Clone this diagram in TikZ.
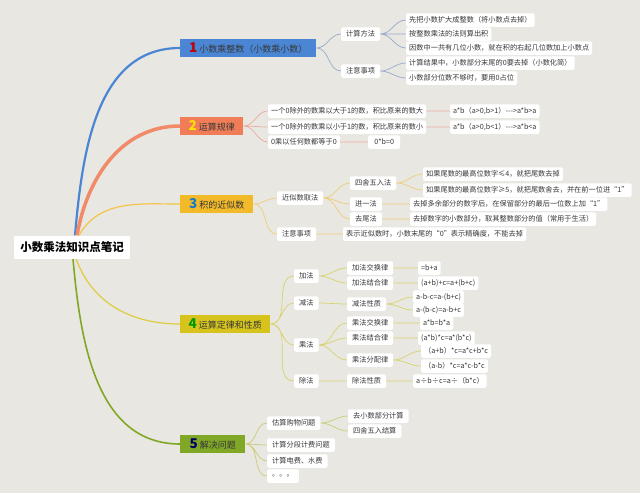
\documentclass[tikz,border=0pt]{standalone}
\usepackage{fontspec}
\setmainfont{Noto Sans CJK SC}
\definecolor{paper}{RGB}{233,231,226}
\definecolor{blueb}{RGB}{74,134,212}
\definecolor{coralb}{RGB}{240,125,88}
\definecolor{goldb}{RGB}{242,186,40}
\definecolor{mustb}{RGB}{214,196,28}
\definecolor{greenb}{RGB}{128,168,38}
\definecolor{bluel}{RGB}{150,170,205}
\definecolor{corall}{RGB}{236,170,158}
\definecolor{goldl}{RGB}{238,205,120}
\definecolor{mustl}{RGB}{214,210,110}
\definecolor{greenl}{RGB}{200,204,118}
\colorlet{inkgray}{black!78}
\usetikzlibrary{backgrounds}

\begin{document}
\begin{tikzpicture}[x=1pt, y=-1pt,
  rootbox/.style={fill=white, font=\fontsize{11.5}{13}\selectfont\bfseries,
    inner xsep=6pt, minimum height=23pt},
  topic/.style={anchor=west, font=\fontsize{9}{10}\selectfont, text=inkgray,
    minimum height=18pt, inner xsep=5pt, align=left},
  item/.style={anchor=west, fill=white, rounded corners=1.5pt,
    font=\fontsize{7.2}{9}\selectfont, text=inkgray, minimum height=13.5pt,
    inner xsep=3pt, inner ysep=1pt},
  mid/.style={item, inner xsep=5pt},
  link/.style={line width=0.7pt, out=0, in=180},
]
  \useasboundingbox (0,0) rectangle (640,493);
  \node[rootbox] (root) at (72,247) {小数乘法知识点笔记};

  % 1
  \node[topic, fill=blueb, minimum width=136pt] (b1) at (180,48)
    {{\color{red!75!black}\fontsize{13.5}{12}\selectfont\bfseries 1}\ 小数乘整数（小数乘小数）};
  \node[mid] (b1a) at (341,34) {计算方法};
  \node[mid] (b1b) at (341,71) {注意事项};
  \node[item] (b1a1) at (406,20) {先把小数扩大成整数（将小数点去掉）};
  \node[item] (b1a2) at (406,34) {按整数乘法的法则算出积};
  \node[item] (b1a3) at (406,48) {因数中一共有几位小数，就在积的右起几位数加上小数点};
  \node[item] (b1b1) at (406,63) {计算结果中，小数部分末尾的0要去掉（小数化简）};
  \node[item] (b1b2) at (406,78) {小数部分位数不够时，要用0占位};

  % 2
  \node[topic, fill=coralb, minimum width=63pt] (b2) at (180,126)
    {{\color{yellow!85!orange}\fontsize{13.5}{12}\selectfont\bfseries 2}\ 运算规律};
  \node[item] (b2a) at (268,111) {一个0除外的数乘以大于1的数，积比原来的数大};
  \node[item] (b2b) at (268,127) {一个0除外的数乘以小于1的数，积比原来的数小};
  \node[item] (b2c) at (268,142) {0乘以任何数都等于0};
  \node[item] (b2a1) at (450,111) {a*b（a>0,b>1）-{}-{}->a*b>a};
  \node[item] (b2b1) at (450,127) {a*b（a>0,b<1）-{}-{}->a*b<a};
  \node[item, minimum width=32pt] (b2c1) at (368,142) {0*b=0};

  % 3
  \node[topic, fill=goldb, minimum width=73pt] (b3) at (180,204)
    {{\color{cyan!60!blue}\fontsize{13.5}{12}\selectfont\bfseries 3}\ 积的近似数};
  \node[mid] (b3a) at (277,198) {近似数取法};
  \node[mid] (b3b) at (277,234) {注意事项};
  \node[mid] (b3a1) at (350,183) {四舍五入法};
  \node[mid] (b3a2) at (350,204) {进一法};
  \node[mid] (b3a3) at (350,219) {去尾法};
  \node[item] (b3a11) at (423,174) {如果尾数的最高位数字≤4，就把尾数去掉};
  \node[item] (b3a12) at (423,190) {如果尾数的最高位数字≥5，就把尾数舍去，并在前一位进“1”};
  \node[item] (b3a21) at (410,204) {去掉多余部分的数字后，在保留部分的最后一位数上加“1”};
  \node[item] (b3a31) at (410,219) {去掉数字的小数部分，取其整数部分的值（常用于生活）};
  \node[item] (b3b1) at (343,234) {表示近似数时，小数末尾的“0”表示精确度，不能去掉};

  % 4
  \node[topic, fill=mustb, minimum width=90pt] (b4) at (180,324)
    {{\color{green!60!black}\fontsize{13.5}{12}\selectfont\bfseries 4}\ 运算定律和性质};
  \node[mid] (b4a) at (294,276) {加法};
  \node[mid] (b4b) at (294,303) {减法};
  \node[mid] (b4c) at (294,345) {乘法};
  \node[mid] (b4d) at (294,381) {除法};
  \node[mid] (b4a1) at (347,268) {加法交换律};
  \node[mid] (b4a2) at (347,283) {加法结合律};
  \node[mid] (b4b1) at (347,304) {减法性质};
  \node[mid] (b4c1) at (347,323) {乘法交换律};
  \node[mid] (b4c2) at (347,338) {乘法结合律};
  \node[mid] (b4c3) at (347,360) {乘法分配律};
  \node[mid] (b4d1) at (347,381) {除法性质};
  \node[item] (b4a11) at (418,268) {=b+a};
  \node[item] (b4a21) at (418,283) {(a+b)+c=a+(b+c)};
  \node[item] (b4b11) at (413,297) {a-b-c=a-(b+c)};
  \node[item] (b4b12) at (413,310) {a-(b-c)=a-b+c};
  \node[item] (b4c11) at (420,323) {a*b=b*a};
  \node[item] (b4c21) at (418,338) {(a*b)*c=a*(b*c)};
  \node[item] (b4c31) at (421,351) {（a+b）*c=a*c+b*c};
  \node[item] (b4c32) at (421,366) {（a-b）*c=a*c-b*c};
  \node[item] (b4d11) at (413,381) {a÷b÷c=a÷（b*c）};

  % 5
  \node[topic, fill=greenb, minimum width=65pt] (b5) at (180,444)
    {{\color{blue!40!black}\fontsize{13.5}{12}\selectfont\bfseries 5}\ 解决问题};
  \node[mid] (b5a) at (267,423) {估算购物问题};
  \node[mid] (b5b) at (267,445) {计算分段计费问题};
  \node[mid] (b5c) at (267,461) {计算电费、水费};
  \node[mid] (b5d) at (267,476) {。。。};
  \node[mid] (b5a1) at (348,416) {去小数部分计算};
  \node[mid] (b5a2) at (348,431) {四舍五入结算};

  \begin{scope}[on background layer]
    \fill[paper] (0,0) rectangle (640,493);
    % main branches
    \draw[blueb, line width=2.2pt] ([xshift=3pt]root.north) to[out=85, in=180] (b1.west);
    \draw[coralb!90!white, line width=3.5pt] ([xshift=5pt]root.north) to[out=80, in=180] (b2.west);
    \draw[goldb!85!white, line width=1.2pt] ([xshift=7pt]root.north) to[out=60, in=180] (b3.west);
    \draw[mustb!85!white, line width=1.2pt] ([xshift=4pt]root.south) to[out=-70, in=180] (b4.west);
    \draw[greenb, line width=1.6pt] ([xshift=1pt]root.south) to[out=-85, in=180] (b5.west);
    % 1
    \draw[link, bluel] (b1.east) to (b1a.west) (b1.east) to (b1b.west)
      (b1a.east) to (b1a1.west) (b1a.east) to (b1a2.west) (b1a.east) to (b1a3.west)
      (b1b.east) to (b1b1.west) (b1b.east) to (b1b2.west);
    % 2
    \draw[link, corall] (b2.east) to (b2a.west) (b2.east) to (b2b.west) (b2.east) to (b2c.west)
      (b2a.east) to (b2a1.west) (b2b.east) to (b2b1.west) (b2c.east) to (b2c1.west);
    % 3
    \draw[link, goldl] (b3.east) to (b3a.west) (b3.east) to (b3b.west)
      (b3a.east) to (b3a1.west) (b3a.east) to (b3a2.west) (b3a.east) to (b3a3.west)
      (b3a1.east) to (b3a11.west) (b3a1.east) to (b3a12.west)
      (b3a2.east) to (b3a21.west) (b3a3.east) to (b3a31.west)
      (b3b.east) to (b3b1.west);
    % 4
    \draw[link, mustl] (b4.east) to (b4a.west) (b4.east) to (b4b.west)
      (b4.east) to (b4c.west) (b4.east) to (b4d.west)
      (b4a.east) to (b4a1.west) (b4a.east) to (b4a2.west)
      (b4b.east) to (b4b1.west)
      (b4c.east) to (b4c1.west) (b4c.east) to (b4c2.west) (b4c.east) to (b4c3.west)
      (b4d.east) to (b4d1.west)
      (b4a1.east) to (b4a11.west) (b4a2.east) to (b4a21.west)
      (b4b1.east) to (b4b11.west) (b4b1.east) to (b4b12.west)
      (b4c1.east) to (b4c11.west) (b4c2.east) to (b4c21.west)
      (b4c3.east) to (b4c31.west) (b4c3.east) to (b4c32.west)
      (b4d1.east) to (b4d11.west);
    % 5
    \draw[link, greenl] (b5.east) to (b5a.west) (b5.east) to (b5b.west)
      (b5.east) to (b5c.west) (b5.east) to (b5d.west)
      (b5a.east) to (b5a1.west) (b5a.east) to (b5a2.west);
  \end{scope}
\end{tikzpicture}
\end{document}
